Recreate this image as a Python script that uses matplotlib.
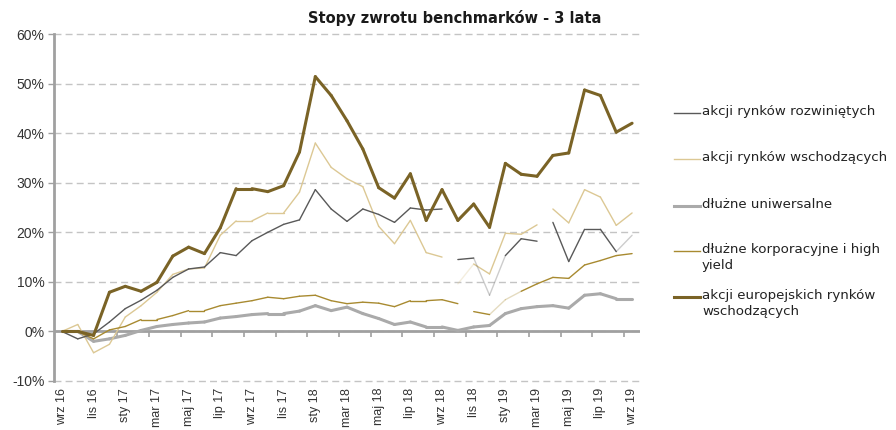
import numpy as np
import matplotlib
matplotlib.use("Agg")
import matplotlib.pyplot as plt
from matplotlib.lines import Line2D

plt.rcParams['font.family'] = ['Liberation Sans', 'DejaVu Sans']

# monthly categories, wrz 16 .. wrz 19
months = ['wrz 16', 'paź 16', 'lis 16', 'gru 16', 'sty 17', 'lut 17', 'mar 17', 'kwi 17',
          'maj 17', 'cze 17', 'lip 17', 'sie 17', 'wrz 17', 'paź 17', 'lis 17', 'gru 17',
          'sty 18', 'lut 18', 'mar 18', 'kwi 18', 'maj 18', 'cze 18', 'lip 18', 'sie 18',
          'wrz 18', 'paź 18', 'lis 18', 'gru 18', 'sty 19', 'lut 19', 'mar 19', 'kwi 19',
          'maj 19', 'cze 19', 'lip 19', 'sie 19', 'wrz 19']

# returns in %
developed = [0, -1.5, -0.5, 1.9, 4.6, 6.3, 8.3, 10.9, 12.6, 13.0, 15.9, 15.3, 18.3, 20.0,
             21.6, 22.5, 28.6, 24.7, 22.2, 24.7, 23.6, 22.0, 24.9, 24.5, 24.7, 14.5, 14.8,
             7.3, 15.3, 18.7, 18.2, 22.0, 14.1, 20.6, 20.6, 16.1, 19.4]
emerging = [0, 1.4, -4.3, -2.6, 2.9, 5.2, 7.9, 11.5, 12.6, 12.8, 19.4, 22.3, 22.3, 23.9,
            23.9, 28.1, 38.0, 33.1, 30.8, 29.2, 21.2, 17.7, 22.4, 15.9, 15.0, 9.6, 13.6,
            11.6, 19.8, 19.6, 21.5, 24.7, 21.9, 28.6, 27.1, 21.4, 23.9]
universal = [0, 0, -2.0, -1.5, -0.8, 0.2, 1.0, 1.4, 1.7, 1.9, 2.7, 3.0, 3.4, 3.6, 3.6, 4.1,
             5.2, 4.2, 4.9, 3.6, 2.6, 1.4, 1.9, 0.9, 0.9, 0.2, 0.9, 1.2, 3.6, 4.6, 5.0, 5.2,
             4.7, 7.3, 7.6, 6.6, 6.6]
corporate = [0, 0, -1.5, 0.3, 1.0, 2.4, 2.4, 3.2, 4.2, 4.2, 5.2, 5.7, 6.2, 6.9, 6.6, 7.1,
             7.3, 6.2, 5.6, 5.9, 5.7, 5.0, 6.2, 6.2, 6.4, 5.6, 4.0, 3.4, 6.4, 8.1, 9.6, 10.9,
             10.7, 13.4, 14.3, 15.3, 15.7]
eu_emerging = [0, 0, -0.8, 7.9, 9.1, 8.1, 9.9, 15.2, 17.0, 15.7, 20.9, 28.8, 28.8, 28.2,
               29.4, 36.2, 51.4, 47.6, 42.5, 36.8, 29.0, 26.9, 31.8, 22.4, 28.6, 22.4, 25.7,
               21.0, 33.9, 31.7, 31.3, 35.5, 36.0, 48.7, 47.6, 40.2, 42.0]

labels = ['akcji rynków rozwiniętych', 'akcji rynków wschodzących', 'dłużne uniwersalne',
          'dłużne korporacyjne i high\nyield', 'akcji europejskich rynków\nwschodzących']

# segments missing / faded in the original picture (segment k joins month k and k+1)
series = [
    # values, colour, width, gaps, faint, zorder, legend slot
    (developed, '#595959', 1.0, [24, 30], [26, 27, 35], 4, 0),
    (emerging, '#dcc894', 1.0, [24, 30], [25], 3, 1),
    (universal, '#aaaaaa', 2.2, [], [], 2, 2),
    (corporate, '#a88a30', 1.0, [25], [27, 28], 3, 3),
    (eu_emerging, '#7a6326', 2.2, [], [], 5, 4),
]

fig = plt.figure(figsize=(8.96, 4.3), dpi=100)
ax = fig.add_axes([54 / 896, 1 - 381 / 430, 586 / 896, 347 / 430])

x = np.arange(len(months))
for vals, col, lw, gaps, faint, z, _ in series:
    y = np.array(vals, dtype=float)
    for k in range(len(x) - 1):
        if k in gaps:
            continue
        a = 0.3 if k in faint else 1.0
        ax.plot(x[k:k + 2], y[k:k + 2], color=col, lw=lw, alpha=a, zorder=z,
                solid_capstyle='round', solid_joinstyle='round')

ax.set_xlim(-0.5, len(months) - 0.5)
ax.set_ylim(-10, 60)
ax.set_yticks(np.arange(-10, 61, 10))
ax.set_yticklabels([f'{v}%' for v in range(-10, 61, 10)], fontsize=10, color='#333333')
ax.yaxis.grid(True, linestyle=(0, (5, 3)), color='#c4c4c4', lw=1.0)
for gl in ax.get_ygridlines():
    gl.set_clip_on(False)
ax.set_axisbelow(True)

ax.set_xticks(x[::2])
ax.set_xticklabels(months[::2], rotation=90, fontsize=9, color='#333333', va='top')
ax.tick_params(axis='x', length=0, pad=5)
ax.tick_params(axis='y', length=4, color='#a0a0a0', width=1, pad=3)

# zero line with tick marks between every two months
ax.axhline(0, color='#a0a0a0', lw=2, zorder=1)
ax.vlines(np.arange(1.5, len(months) - 1, 2), -1.1, 0, color='#a0a0a0', lw=1.2, zorder=1)

for s in ['top', 'right', 'bottom']:
    ax.spines[s].set_visible(False)
ax.spines['left'].set_color('#a0a0a0')
ax.spines['left'].set_linewidth(2)

fig.text(455 / 896, 1 - 18 / 430, 'Stopy zwrotu benchmarków - 3 lata', ha='center',
         va='center', fontsize=10.5, fontweight='bold', family='DejaVu Sans', color='#1a1a1a')

# legend on the right
legend_y = [113, 159, 206, 251, 297]
for vals, col, lw, gaps, faint, z, slot in series:
    yy = 1 - legend_y[slot] / 430
    fig.add_artist(Line2D([674 / 896, 700 / 896], [yy, yy], color=col, lw=lw))
    fig.text(702 / 896, yy + 8 / 430, labels[slot], ha='left', va='top', fontsize=9.6,
             family='DejaVu Sans', color='#222222', linespacing=1.3)

fig.savefig('out.png', dpi=100)
